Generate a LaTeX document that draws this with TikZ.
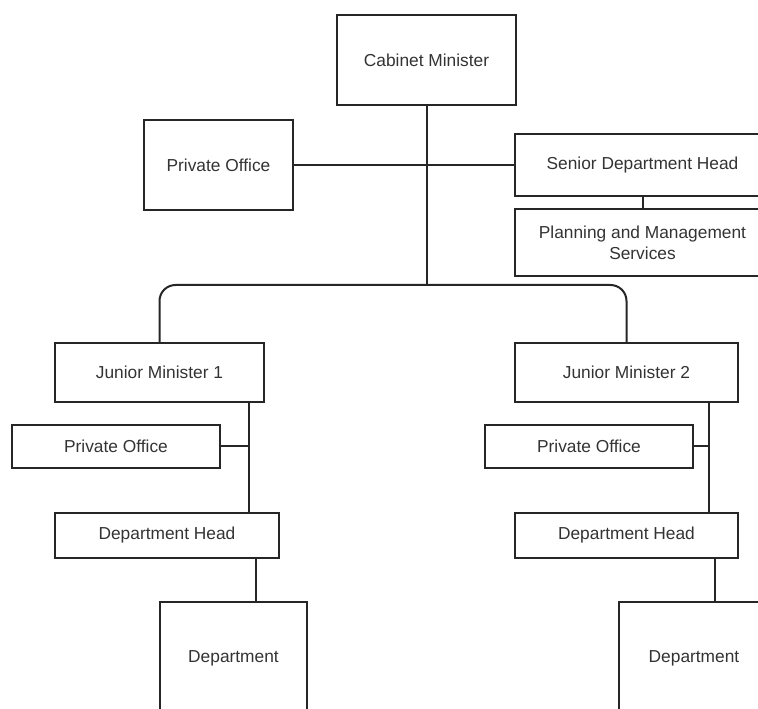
\documentclass[tikz,border=0pt]{standalone}
\usepackage{fontspec}
\setmainfont{Liberation Sans}
\usetikzlibrary{positioning,calc}

\begin{document}
\begin{tikzpicture}[x=0.75pt, y=-0.75pt,
  every node/.style={draw=black!85, line width=1.5pt, rectangle, align=center, inner sep=0pt, font=\fontsize{13}{16}\selectfont, text=black!80},
  box/.style 2 args={minimum width=#1*0.75pt, minimum height=#2*0.75pt},
  link/.style={draw=black!85, line width=1.5pt}]
\useasboundingbox (0,0) rectangle (758,709);
\clip (0,0) rectangle (758,709);
\node (cab) [box={179}{90}] at (426.5,60) {Cabinet Minister};
\node (po) [box={149}{90}] at (218.5,165) {Private Office};
\node (sdh) [box={255}{62}] at (642.5,165) {Senior Department Head};
\node (pms) [box={255}{67}] at (642.5,242.5) {Planning and Management\\Services};
\node (jm1) [box={209}{59}] at (159.5,372.5) {Junior Minister 1};
\node (jm2) [box={223}{59}] at (626.5,372.5) {Junior Minister 2};
\node (po1) [box={208}{43}] at (116,446.5) {Private Office};
\node (po2) [box={208}{43}] at (589,446.5) {Private Office};
\node (dh1) [box={224}{45}] at (167,535.5) {Department Head};
\node (dh2) [box={223}{45}] at (626.5,535.5) {Department Head};
\node (dep1) [box={147}{112}] at (233.5,658) {Department};
\node (dep2) [box={150}{112}] at (694,658) {Department};
\coordinate (hub) at (cab.south |- 0,285);
\coordinate (j1) at ([xshift=-12pt]jm1.south east);
\coordinate (j2) at ([xshift=-22.5pt]jm2.south east);
\coordinate (d1) at ([xshift=-39pt]dep1.north east);
\coordinate (d2) at ([xshift=-18pt]dh2.south east);
\draw[link] (cab) -- (hub);
\draw[link] (po.east) -- (sdh.west);
\draw[link] (sdh) -- (pms);
\draw[link, rounded corners=12pt] (jm1.north) -- (jm1.north |- hub) -- (jm2.north |- hub) -- (jm2.north);
\draw[link] (j1) -- (j1 |- dh1.north);
\draw[link] (po1.east) -- (po1.east -| j1);
\draw[link] (j2) -- (j2 |- dh2.north);
\draw[link] (po2.east) -- (po2.east -| j2);
\draw[link] (d1) -- (d1 |- dh1.south);
\draw[link] (d2) -- (d2 |- dep2.north);
\end{tikzpicture}
\end{document}
